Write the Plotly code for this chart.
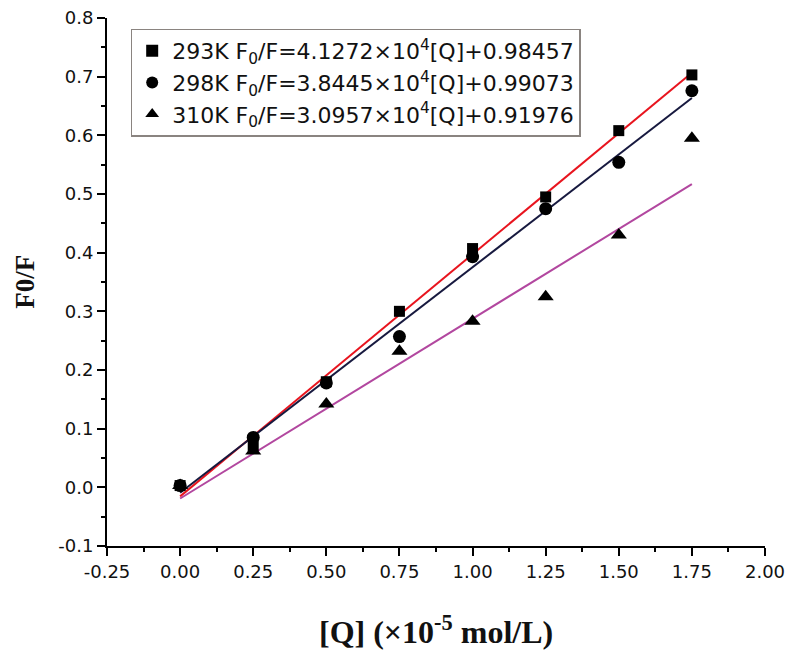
import plotly.graph_objects as go

conc = [0.00, 0.25, 0.50, 0.75, 1.00, 1.25, 1.50, 1.75]
f293 = [0.003, 0.071, 0.180, 0.300, 0.407, 0.495, 0.608, 0.703]
f298 = [0.003, 0.085, 0.178, 0.257, 0.393, 0.475, 0.554, 0.676]
f310 = [0.003, 0.062, 0.142, 0.232, 0.283, 0.325, 0.430, 0.595]

fit_x = [0.0, 1.75]
fit293 = [-0.0154, 0.7068]
fit298 = [-0.0093, 0.6635]
fit310 = [-0.0190, 0.5170]

names = ["293K F<sub>0</sub>/F=4.1272×10<sup>4</sup>[Q]+0.98457",
         "298K F<sub>0</sub>/F=3.8445×10<sup>4</sup>[Q]+0.99073",
         "310K F<sub>0</sub>/F=3.0957×10<sup>4</sup>[Q]+0.91976"]

x_ticks = [-0.25, 0.00, 0.25, 0.50, 0.75, 1.00, 1.25, 1.50, 1.75, 2.00]
y_ticks = [-0.1, 0.0, 0.1, 0.2, 0.3, 0.4, 0.5, 0.6, 0.7, 0.8]

fig = go.Figure()
for fy, col in [(fit293, "#e8141e"), (fit298, "#17193f"), (fit310, "#b2479f")]:
    fig.add_trace(go.Scatter(x=fit_x, y=fy, mode="lines", line=dict(color=col, width=2),
                             showlegend=False, hoverinfo="skip"))
for ys, sym, sz, nm in [(f293, "square", 11, names[0]), (f298, "circle", 13, names[1]),
                        (f310, "triangle-up", 14, names[2])]:
    fig.add_trace(go.Scatter(x=conc, y=ys, mode="markers", name=nm,
                             marker=dict(symbol=sym, size=sz, color="black")))

serif = "Liberation Serif, Times New Roman"
fig.update_layout(
    width=786, height=648,
    margin=dict(l=99, r=29, t=10, b=110),
    plot_bgcolor="white", paper_bgcolor="white",
    font=dict(family="DejaVu Sans", color="#111111"),
    legend=dict(x=0.036, y=0.98, xanchor="left", yanchor="top",
                bordercolor="#8a8480", borderwidth=1.5, bgcolor="white",
                font=dict(size=22, family="DejaVu Sans", color="#111111"),
                tracegroupgap=0, itemsizing="constant"),
    annotations=[
        dict(text="<b>[Q] (×10<sup>-5</sup> mol/L)</b>", xref="paper", yref="paper",
             x=0.5, y=-0.16, xanchor="center", yanchor="middle", showarrow=False,
             font=dict(family=serif, size=32, color="#111111")),
        dict(text="<b>F0/F</b>", xref="paper", yref="paper", textangle=-90,
             x=-0.125, y=0.5, xanchor="center", yanchor="middle", showarrow=False,
             font=dict(family=serif, size=27, color="#111111")),
    ],
)
fig.update_xaxes(range=[-0.25, 2.0], tickvals=x_ticks, automargin=False,
                 ticktext=[f"{v:.2f}" for v in x_ticks], ticklabeloverflow="allow",
                 showgrid=False, zeroline=False, showline=True, linecolor="black", linewidth=2,
                 ticks="outside", ticklen=8, tickwidth=2, tickcolor="black",
                 minor=dict(ticks="outside", ticklen=4, tickwidth=2, tickcolor="black", dtick=0.125, tick0=0),
                 tickfont=dict(size=18))
fig.update_yaxes(range=[-0.1, 0.8], tickvals=y_ticks, automargin=False,
                 ticktext=[f"{v:.1f}" for v in y_ticks], ticklabeloverflow="allow",
                 showgrid=False, zeroline=False, showline=True, linecolor="black", linewidth=2,
                 ticks="outside", ticklen=8, tickwidth=2, tickcolor="black",
                 minor=dict(ticks="outside", ticklen=4, tickwidth=2, tickcolor="black", dtick=0.05, tick0=0),
                 tickfont=dict(size=18))

fig.write_html("out.html")
